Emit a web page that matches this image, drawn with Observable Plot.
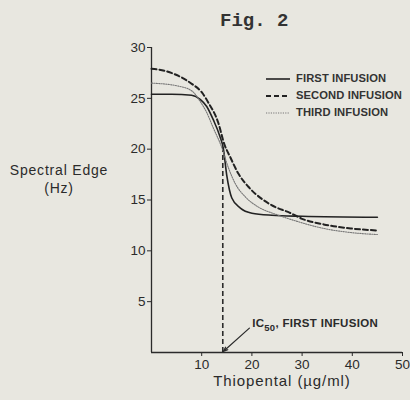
<!DOCTYPE html>
<html>
<head>
<meta charset="utf-8">
<script src="https://cdn.jsdelivr.net/npm/d3@7"></script>
<script src="https://cdn.jsdelivr.net/npm/@observablehq/plot@0.6"></script>
<style>
  html, body { margin: 0; padding: 0; background: #e8e7e0; }
  #wrap { position: relative; width: 410px; height: 400px; color: #2b2b2b; font-family: "Liberation Sans", Arial, sans-serif; overflow: hidden; }
  .abs { position: absolute; white-space: nowrap; line-height: 1; }
  #title { left: 220px; top: 12px; font-family: "Liberation Mono", "DejaVu Sans Mono", monospace; font-size: 19px; font-weight: bold; color: #333; }
  #ylab { left: 0px; width: 118px; top: 163px; text-align: center; font-size: 14px; letter-spacing: 0.8px; }
  #ylab2 { left: 0px; width: 118px; top: 181px; text-align: center; font-size: 14px; letter-spacing: 0.8px; }
  #xlab { left: 151px; width: 262px; top: 373px; text-align: center; font-size: 15px; letter-spacing: 0.9px; }
  #legend { left: 265px; top: 70px; }
  .lrow { display: flex; align-items: center; height: 17px; white-space: nowrap; }
  .lrow span { font-size: 11.2px; font-weight: bold; margin-left: 5px; letter-spacing: 0.1px; color: #333; }
</style>
</head>
<body>
<div id="wrap">
  <div id="chart"></div>
  <div class="abs" id="title">Fig. 2</div>
  <div class="abs" id="ylab">Spectral Edge</div>
  <div class="abs" id="ylab2">(Hz)</div>
  <div class="abs" id="xlab">Thiopental (µg/ml)</div>
  <div class="abs" id="legend"></div>
</div>
<script>
// Series: first infusion (solid)
const xFirst = [0, 4, 8, 9.7, 11, 12.3, 13.6, 14.3, 15, 16, 17.7, 20, 24, 30, 45];
const yFirst = [25.4, 25.4, 25.3, 24.9, 24.2, 22.9, 21.3, 20.1, 17.4, 15.2, 14.2, 13.7, 13.5, 13.4, 13.3];
// Second infusion (dashed)
const xSecond = [0, 2.7, 5.4, 8.1, 10, 11.3, 13.3, 14.5, 15.7, 17.3, 19.3, 22, 24.7, 27.3, 30, 34.3, 39.7, 45];
const ySecond = [27.9, 27.7, 27.2, 26.4, 25.6, 24.6, 22.6, 20.5, 19.2, 17.6, 16.3, 15.1, 14.3, 13.8, 13.15, 12.6, 12.2, 12.0];
// Third infusion (dotted)
const xThird = [0, 5.4, 8.1, 9.7, 11, 12.3, 13.9, 15.3, 16.7, 18.7, 21.3, 24.7, 29, 34.3, 39.7, 45];
const yThird = [26.5, 26.2, 25.7, 24.7, 23.6, 22.1, 20.3, 18.2, 16.6, 15.3, 14.3, 13.6, 12.9, 12.2, 11.8, 11.6];

const seriesNames = ["FIRST INFUSION", "SECOND INFUSION", "THIRD INFUSION"];
const xTicks = [10, 20, 30, 40, 50];
const yTicks = [5, 10, 15, 20, 25, 30];

// IC50 annotation
const ic50X = 14.2;
const ic50Top = 20.3;
const ic50Label = "IC50, FIRST INFUSION";
const labelPos = {x: 20.05, y: 2.5};
const arrowFrom = {x: 19.5, y: 2.4};
const arrowTo = {x: 14.3, y: 0.1};

const styles = [
  {stroke: "#222", strokeWidth: 1.6, dash: null},
  {stroke: "#222", strokeWidth: 2, dash: "5,3"},
  {stroke: "#777", strokeWidth: 1.1, dash: "1.2,1.2"}
];

const toRows = (xs, ys) => xs.map((x, i) => ({x, y: ys[i]}));
const rows = [toRows(xFirst, yFirst), toRows(xSecond, ySecond), toRows(xThird, yThird)];

const lineMarks = rows.map((r, i) => Plot.line(r, {
  x: "x", y: "y", curve: "monotone-x",
  stroke: styles[i].stroke, strokeWidth: styles[i].strokeWidth,
  strokeDasharray: styles[i].dash
}));

const chart = Plot.plot({
  width: 410,
  height: 400,
  marginLeft: 151,
  marginRight: 8,
  marginTop: 47,
  marginBottom: 48,
  style: {background: "transparent", fontFamily: "'Liberation Sans', Arial, sans-serif", color: "#2b2b2b", overflow: "visible"},
  x: {domain: [0, 50]},
  y: {domain: [0, 30]},
  marks: [
    Plot.axisX({ticks: xTicks, tickSize: 4, tickPadding: 3, fontSize: 13.5, label: null}),
    Plot.axisY({ticks: yTicks, tickSize: 4, tickPadding: 2, fontSize: 13.5, label: null}),
    Plot.ruleX([0], {stroke: "#2b2b2b", strokeWidth: 1.3}),
    Plot.ruleY([0], {stroke: "#2b2b2b", strokeWidth: 1.3}),
    Plot.ruleX([ic50X], {y1: 0, y2: ic50Top, stroke: "#2b2b2b", strokeWidth: 1.6, strokeDasharray: "5,3"}),
    ...lineMarks,
    Plot.arrow([{x1: arrowFrom.x, y1: arrowFrom.y, x2: arrowTo.x, y2: arrowTo.y}], {
      x1: "x1", y1: "y1", x2: "x2", y2: "y2", stroke: "#2b2b2b", strokeWidth: 1.2, headLength: 6, headAngle: 40
    }),
    Plot.text([{...labelPos, label: ic50Label}], {
      x: "x", y: "y", text: "label", textAnchor: "start", lineAnchor: "bottom",
      fontSize: 11.5, fontWeight: "bold", fill: "#2b2b2b", className: "ic50lab"
    })
  ]
});
document.getElementById("chart").appendChild(chart);

// subscript for IC50
d3.select(chart).selectAll(".ic50lab text").each(function() {
  const t = d3.select(this);
  t.text("").attr("letter-spacing", 0.3);
  t.append("tspan").text("IC");
  t.append("tspan").attr("dy", 3.5).attr("font-size", 9.5).text("50");
  t.append("tspan").attr("dy", -3.5).text(", FIRST INFUSION");
});

// legend
const legend = d3.select("#legend");
seriesNames.forEach((name, i) => {
  const row = legend.append("div").attr("class", "lrow");
  const svg = row.append("svg").attr("width", 26).attr("height", 6);
  svg.append("line").attr("x1", 1).attr("x2", 25).attr("y1", 3).attr("y2", 3)
    .attr("stroke", styles[i].stroke).attr("stroke-width", styles[i].strokeWidth)
    .attr("stroke-dasharray", styles[i].dash);
  row.append("span").text(name);
});
</script>
</body>
</html>
